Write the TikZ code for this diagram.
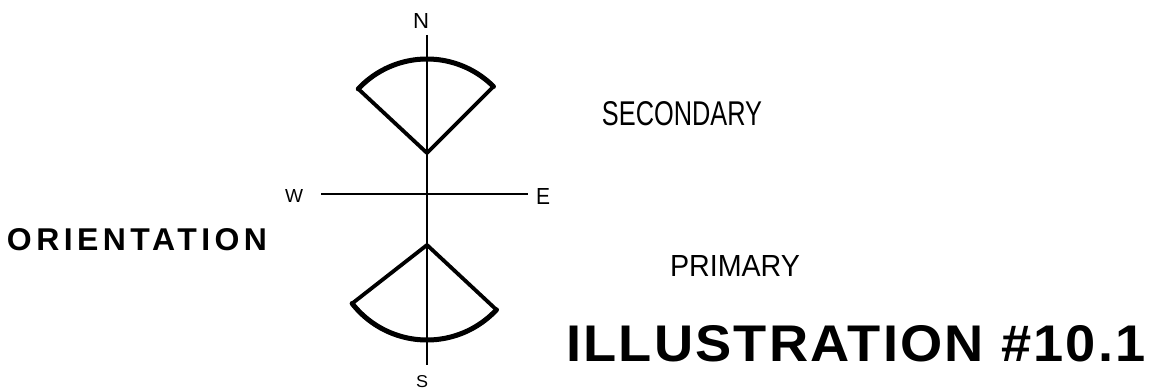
\documentclass[tikz,border=0pt]{standalone}
\usepackage{fontspec}
\setmainfont{Liberation Sans}
\newfontfamily\handfont{Liberation Sans}
\newfontfamily\titlefont{Liberation Sans}[LetterSpace=14]
\newfontfamily\bigfont{Liberation Sans}[LetterSpace=4]
\begin{document}
\begin{tikzpicture}[x=1pt,y=1pt,
  axis/.style={line width=2.2pt},
  crossbar/.style={line width=2.8pt},
  lobe/.style={line width=3.8pt,line join=round,line cap=round},
  rim/.style={line width=5pt,line cap=round},
  hand/.style={inner sep=0pt,font=\handfont},
  label/.style={inner sep=0pt}]
\useasboundingbox[fill=white] (0,0) rectangle (1151,391);
% compass labels
\node[hand] (N) at (421,370) {\resizebox{16pt}{15pt}{N}};
\node[hand] (W) at (294,195) {\resizebox{18pt}{13pt}{W}};
\node[hand] (E) at (543,194) {\resizebox{14pt}{16pt}{E}};
\node[hand] (S) at (422,9) {\resizebox{12pt}{12pt}{S}};
% axes
\coordinate (ntop) at (427,356);
\coordinate (sbot) at (427,26);
\coordinate (wend) at (321,197);
\coordinate (eend) at (528,197);
\draw[axis] (ntop) -- (sbot);
\draw[crossbar] (wend) -- (eend);
% sectors
\coordinate (ua) at (427,238);
\coordinate (la) at (427,146);
\draw[lobe] (ua) -- ++(137:94) arc[start angle=137,end angle=45,radius=94] -- cycle;
\draw[rim] (ua) ++(137:94) arc[start angle=137,end angle=45,radius=94];
\draw[lobe] (la) -- ++(-142:95) arc[start angle=-142,end angle=-43,radius=95] -- cycle;
\draw[rim] (la) ++(-142:95) arc[start angle=-142,end angle=-43,radius=95];
% texts
\node[hand] (secondary) at (682,277) {\resizebox{160pt}{24pt}{SECONDARY}};
\node[hand] (primary) at (735,125) {\resizebox{130pt}{21pt}{PRIMARY}};
\node[label] (orient) at (137,151) {\resizebox{260pt}{22pt}{\titlefont\bfseries ORIENTATION}};
\node[label] (illus) at (856,47) {\resizebox{579pt}{36pt}{\bigfont\bfseries ILLUSTRATION \#10.1}};
\end{tikzpicture}
\end{document}
